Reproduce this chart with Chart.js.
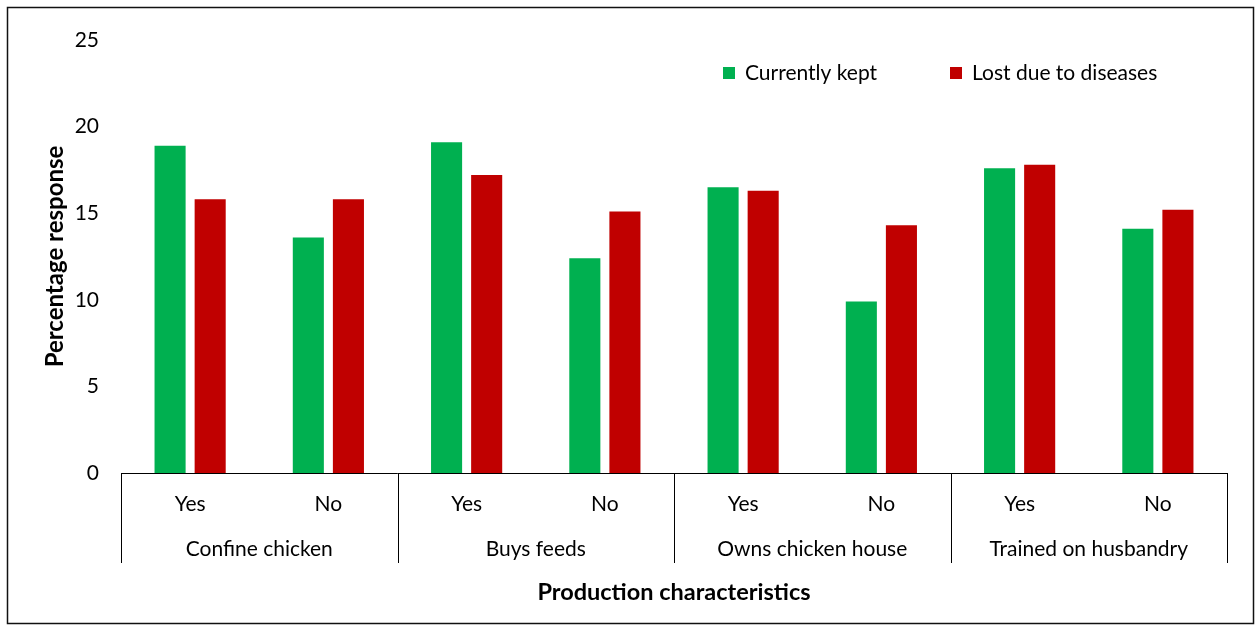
<!DOCTYPE html>
<html>
<head>
<meta charset="utf-8">
<script src="https://cdn.jsdelivr.net/npm/chart.js@4.4.1/dist/chart.umd.min.js"></script>
<style>
  html, body { margin: 0; padding: 0; background: #fff; }
  #wrap { width: 1257px; height: 625px; position: relative; }
</style>
</head>
<body>
<div id="wrap"><canvas id="c" width="1257" height="625"></canvas></div>
<script>
// Sub-categories along the x axis, and the characteristic each pair belongs to
const answers = ['Yes', 'No', 'Yes', 'No', 'Yes', 'No', 'Yes', 'No'];
const groups = ['Confine chicken', 'Buys feeds', 'Owns chicken house', 'Trained on husbandry'];

// Percentage response per sub-category
const currentlyKept = [18.9, 13.6, 19.1, 12.4, 16.5, 9.9, 17.6, 14.1];
const lostToDiseases = [15.8, 15.8, 17.2, 15.1, 16.3, 14.3, 17.8, 15.2];

const yTicks = [0, 5, 10, 15, 20, 25];

const FONT = 'Lato, "Open Sans", "DejaVu Sans", sans-serif';

// Group labels, separators, legend and frame drawn on top of the chart
const decorations = {
  id: 'decorations',
  afterDraw(chart) {
    const ctx = chart.ctx;
    const x = chart.scales.x;
    const area = chart.chartArea;
    const per = answers.length / groups.length;
    const half = (x.getPixelForValue(1) - x.getPixelForValue(0)) / 2;
    ctx.save();
    ctx.strokeStyle = '#000';
    ctx.lineWidth = 1;
    // vertical separators between characteristic groups
    for (let g = 0; g <= groups.length; g++) {
      const idx = g * per;
      const px = Math.round(idx < answers.length ? x.getPixelForValue(idx) - half : x.getPixelForValue(answers.length - 1) + half) + 0.5;
      ctx.beginPath();
      ctx.moveTo(px, area.bottom);
      ctx.lineTo(px, area.bottom + 90);
      ctx.stroke();
    }
    // group labels
    ctx.fillStyle = '#000';
    ctx.font = '21px ' + FONT;
    ctx.textAlign = 'center';
    ctx.textBaseline = 'middle';
    groups.forEach((name, g) => {
      const a = x.getPixelForValue(g * per) - half;
      const b = x.getPixelForValue(g * per + per - 1) + half;
      ctx.fillText(name, (a + b) / 2, area.bottom + 76);
    });
    // legend
    const legendX = [723, 950];
    ctx.textAlign = 'left';
    chart.data.datasets.forEach((ds, i) => {
      ctx.fillStyle = ds.backgroundColor;
      ctx.fillRect(legendX[i], 67, 12, 12);
      ctx.fillStyle = '#000';
      ctx.fillText(ds.label, legendX[i] + 22, 73);
    });
    // outer frame
    ctx.strokeStyle = '#111';
    ctx.lineWidth = 1.5;
    ctx.strokeRect(7.5, 7.5, 1246, 616);
    ctx.restore();
  }
};

new Chart(document.getElementById('c'), {
  type: 'bar',
  data: {
    labels: answers,
    datasets: [
      { label: 'Currently kept', data: currentlyKept, backgroundColor: '#00B050' },
      { label: 'Lost due to diseases', data: lostToDiseases, backgroundColor: '#C00000' }
    ]
  },
  options: {
    responsive: false,
    animation: false,
    devicePixelRatio: 1,
    layout: { padding: { left: 0, right: 30, top: 40, bottom: 0 } },
    datasets: { bar: { categoryPercentage: 0.58, barPercentage: 0.775 } },
    plugins: { legend: { display: false }, tooltip: { enabled: false } },
    scales: {
      x: {
        grid: { display: false, drawTicks: false },
        border: { display: true, color: '#000', width: 1 },
        ticks: { color: '#000', font: { family: FONT, size: 21 }, padding: 19 },
        title: {
          display: true, text: 'Production characteristics', color: '#000',
          font: { family: FONT, size: 23.5, weight: 'bold' }, padding: { top: 0, bottom: 18 }
        },
        afterFit(scale) { scale.height = 152; }
      },
      y: {
        min: 0, max: 25,
        afterBuildTicks(scale) { scale.ticks = yTicks.map(v => ({ value: v })); },
        grid: { display: false, drawTicks: false },
        border: { display: false },
        ticks: { color: '#000', font: { family: FONT, size: 21 }, padding: 22 },
        title: {
          display: true, text: 'Percentage response', color: '#000',
          font: { family: FONT, size: 24, weight: 'bold' }, padding: { top: 41, bottom: 0 }
        },
        afterFit(scale) { scale.width = 121; }
      }
    }
  },
  plugins: [decorations]
});
</script>
</body>
</html>
